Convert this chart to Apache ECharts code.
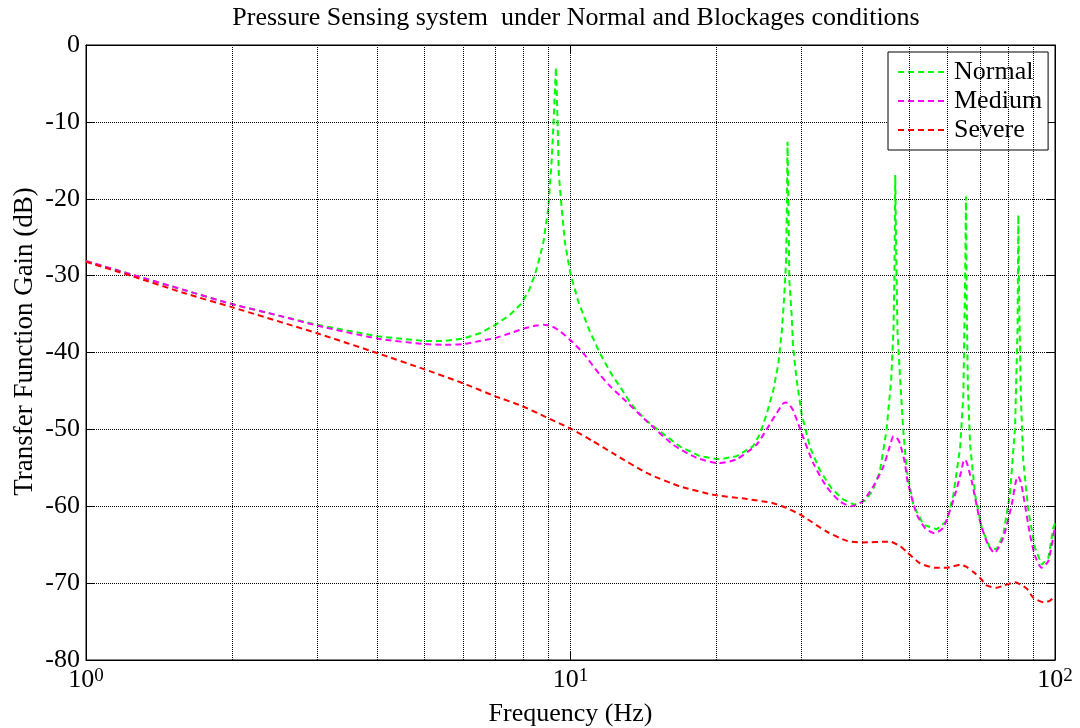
<!DOCTYPE html>
<html><head><meta charset="utf-8">
<script src="https://cdn.jsdelivr.net/npm/echarts/dist/echarts.min.js"></script>
<style>html,body{margin:0;padding:0;background:#fff}#c{width:1080px;height:728px}</style>
</head><body><div id="c"></div>
<script>
const titleText = 'Pressure Sensing system  under Normal and Blockages conditions';
const xName = 'Frequency (Hz)';
const yName = 'Transfer Function Gain (dB)';
const seriesNames = ['Normal', 'Medium', 'Severe'];
const seriesColors = ['#00ff00', '#ff00ff', '#ff0000'];
const minorGridFreqs = [2, 3, 4, 5, 6, 7, 8, 9, 20, 30, 40, 50, 60, 70, 80, 90];

// [frequency Hz, gain dB]
const normal = [
[1,-28.1],[1.25,-29.9],[1.6,-31.9],[2,-33.7],[2.5,-35.2],[3,-36.4],[4,-37.9],[5,-38.5],[5.5,-38.5],[6,-38.2],[6.5,-37.5],[7,-36.4],[7.5,-35.1],[7.9,-33.7],[8.2,-32.0],[8.45,-29.8],[8.65,-27.5],[8.8,-25.5],[9.0,-21.2],[9.15,-14.7],[9.25,-8.5],[9.33,-2.9],[9.39,-8.3],[9.46,-16.9],[9.59,-21.2],[9.74,-25.7],[10.0,-29.8],[10.38,-33.4],[10.97,-37.3],[11.5,-40.1],[12.2,-43.0],[12.76,-44.8],[13.3,-46.6],[14.2,-48.6],[15.1,-50.0],[16.8,-52.2],[18.5,-53.5],[20.3,-53.9],[22,-53.5],[23.8,-52.2],[24.6,-50.6],[25.4,-48.0],[26.2,-45.0],[26.85,-41.5],[27.3,-37.2],[27.6,-32.9],[27.86,-28.1],[27.95,-22.1],[28.05,-12.6],[28.12,-17.8],[28.3,-30.7],[28.6,-35.0],[28.8,-39.3],[29.3,-43.6],[30,-48.0],[31.2,-52.3],[32.7,-55.3],[34.5,-57.6],[36.5,-59.1],[38.5,-59.8],[40.5,-59.3],[42,-58.0],[43.5,-55.5],[44.9,-50.1],[45.9,-43.6],[46.4,-37.2],[46.6,-30.7],[46.8,-16.9],[47.0,-26.4],[47.3,-37.2],[47.9,-43.4],[48.6,-50.0],[49.4,-55.2],[51,-59.8],[53.5,-62.4],[57,-63.0],[59.8,-61.9],[61.7,-58.5],[63.7,-52.4],[64.7,-45.5],[65.0,-36.8],[65.25,-30.0],[65.5,-19.7],[65.7,-32.5],[66.1,-44.6],[66.8,-52.0],[68.4,-58.5],[70.6,-62.8],[73.4,-65.4],[75.8,-65.6],[78.2,-63.7],[80.7,-58.5],[82.7,-49.8],[83.2,-43.3],[83.7,-36.8],[84.0,-22.1],[84.4,-34.6],[85,-45.5],[86,-54.1],[88.1,-60.6],[90.9,-65.4],[93.9,-67.6],[96.9,-66.7],[99.2,-62.8],[100,-62.2]
];
const medium = [
[1,-28.1],[1.25,-29.9],[1.6,-31.9],[2,-33.7],[2.5,-35.2],[3,-36.5],[4,-38.2],[5,-38.9],[5.5,-39.0],[6,-38.9],[6.5,-38.5],[7,-38.1],[7.5,-37.5],[8,-36.9],[8.5,-36.5],[8.8,-36.4],[9.15,-36.6],[9.5,-37.2],[10,-38.4],[10.63,-40.1],[11.5,-42.9],[12.16,-44.6],[12.65,-45.6],[14.4,-49.0],[16.3,-52.0],[18.2,-53.7],[20.2,-54.4],[22,-53.9],[24.2,-52.0],[25.4,-50.0],[26.2,-48.6],[27.2,-47.0],[27.5,-46.6],[27.86,-46.5],[28.3,-46.8],[28.8,-47.5],[29.8,-50.0],[31.7,-54.4],[33.8,-57.5],[36,-59.4],[38,-60.0],[40,-59.4],[42,-57.6],[44.2,-54.9],[45.5,-52.4],[46.4,-50.9],[46.9,-51.0],[47.4,-51.3],[47.9,-51.9],[49.0,-54.4],[49.6,-56.7],[51.8,-61.0],[54,-62.9],[56.4,-63.5],[58.8,-62.8],[62.2,-58.5],[64,-55.5],[64.7,-54.2],[65.2,-53.9],[65.8,-54.4],[66.5,-55.4],[67.3,-56.7],[70,-61.9],[72.5,-64.8],[75,-66.1],[78.2,-64.1],[81.4,-59.8],[83,-56.8],[84.0,-56.1],[85,-56.9],[86,-58.5],[88.8,-63.7],[91,-66.5],[93.8,-68.0],[96.9,-67.1],[100,-62.6]
];
const severe = [
[1,-28.2],[1.25,-30.1],[1.6,-32.3],[2,-34.1],[3,-37.5],[4,-40.1],[5,-42.2],[6,-44.0],[7,-45.7],[7.9,-46.9],[8.9,-48.4],[10,-49.9],[11.1,-51.5],[12.3,-53.2],[14.4,-55.7],[16.8,-57.4],[19.7,-58.5],[23.1,-59.05],[26.2,-59.6],[27.9,-60.2],[30,-61.2],[33.8,-63.3],[37.2,-64.5],[40,-64.7],[45.6,-64.6],[47.9,-65.2],[49.4,-65.9],[52.6,-67.4],[56.5,-68.0],[59.8,-68.0],[63.7,-67.6],[65.7,-67.9],[68,-68.6],[70,-69.3],[72.3,-70.3],[75.8,-70.6],[78.5,-70.3],[82.7,-69.9],[87.4,-70.7],[90.2,-71.9],[94.6,-72.5],[97.5,-72.3],[100,-71.7]
];
const seriesData = [normal, medium, severe];

const FONT = 'Liberation Serif';
const chart = echarts.init(document.getElementById('c'), null, {renderer: 'canvas'});

const series = seriesNames.map((n, i) => ({
  name: n, type: 'line', data: seriesData[i], symbol: 'none', showSymbol: false,
  smooth: i === 0 ? false : 0.2,
  lineStyle: {color: seriesColors[i], width: 2, type: [6, 4]},
  itemStyle: {color: seriesColors[i]},
  z: 3 + i, silent: true
}));
series.push({
  name: 'minorGrid', type: 'line', data: [], z: 1, silent: true,
  markLine: {
    silent: true, symbol: ['none', 'none'], label: {show: false},
    lineStyle: {color: '#000', type: 'dotted', width: 1},
    emphasis: {disabled: true},
    data: minorGridFreqs.map(f => ({xAxis: f}))
  }
});

const option = {
  animation: false,
  backgroundColor: '#fff',
  title: {
    text: titleText, left: 576, textAlign: 'center', top: 5, padding: 0,
    textStyle: {fontFamily: FONT, fontSize: 26, fontWeight: 'normal', color: '#000'}
  },
  legend: {
    data: seriesNames, orient: 'vertical', left: 888, top: 52,
    padding: [7, 6, 7, 9], itemGap: 3, itemWidth: 46, itemHeight: 14,
    backgroundColor: '#fff', borderColor: '#000', borderWidth: 1,
    itemStyle: {opacity: 0},
    textStyle: {fontFamily: FONT, fontSize: 26, color: '#000', lineHeight: 26, padding: [0, 0, 0, 5]}
  },
  grid: {left: 86, right: 25, top: 45, bottom: 68, show: true, borderColor: '#000', borderWidth: 1, outerBoundsMode: 'none', containLabel: false},
  xAxis: [{
    type: 'log', logBase: 10, min: 1, max: 100, position: 'bottom',
    name: xName, nameLocation: 'middle', nameGap: 41, nameMoveOverlap: false,
    nameTextStyle: {fontFamily: FONT, fontSize: 26, color: '#000'},
    axisLine: {show: true, onZero: false, lineStyle: {color: '#000', width: 1}},
    axisTick: {show: true, inside: true, length: 8, lineStyle: {color: '#000'}},
    axisLabel: {
      margin: 7, showMinLabel: true, showMaxLabel: true,
      formatter: v => '{b|10}{s|' + Math.round(Math.log10(v)) + '}',
      rich: {
        b: {fontFamily: FONT, fontSize: 26, lineHeight: 26, color: '#000', verticalAlign: 'bottom'},
        s: {fontFamily: FONT, fontSize: 19, lineHeight: 19, color: '#000', verticalAlign: 'top', padding: [0, 0, 15, 0]}
      }
    },
    splitLine: {show: true, lineStyle: {color: '#000', type: 'dotted', width: 1}}
  }, {
    type: 'log', logBase: 10, min: 1, max: 100, position: 'top',
    axisLine: {show: true, onZero: false, lineStyle: {color: '#000', width: 1}},
    axisTick: {show: true, inside: true, length: 8, lineStyle: {color: '#000'}},
    axisLabel: {show: false}, splitLine: {show: false}
  }],
  yAxis: [{
    type: 'value', min: -80, max: 0, interval: 10, position: 'left',
    name: yName, nameLocation: 'middle', nameGap: 48, nameMoveOverlap: false,
    nameTextStyle: {fontFamily: FONT, fontSize: 27, color: '#000', padding: [0, 0, 0, 22]},
    axisLine: {show: true, onZero: false, lineStyle: {color: '#000', width: 1}},
    axisTick: {show: true, inside: true, length: 8, lineStyle: {color: '#000'}},
    axisLabel: {margin: 6, fontFamily: FONT, fontSize: 26, color: '#000'},
    splitLine: {show: true, lineStyle: {color: '#000', type: 'dotted', width: 1}}
  }, {
    type: 'value', min: -80, max: 0, interval: 10, position: 'right',
    axisLine: {show: true, onZero: false, lineStyle: {color: '#000', width: 1}},
    axisTick: {show: true, inside: true, length: 8, lineStyle: {color: '#000'}},
    axisLabel: {show: false}, splitLine: {show: false}
  }],
  series: series
};
chart.setOption(option);
</script></body></html>
